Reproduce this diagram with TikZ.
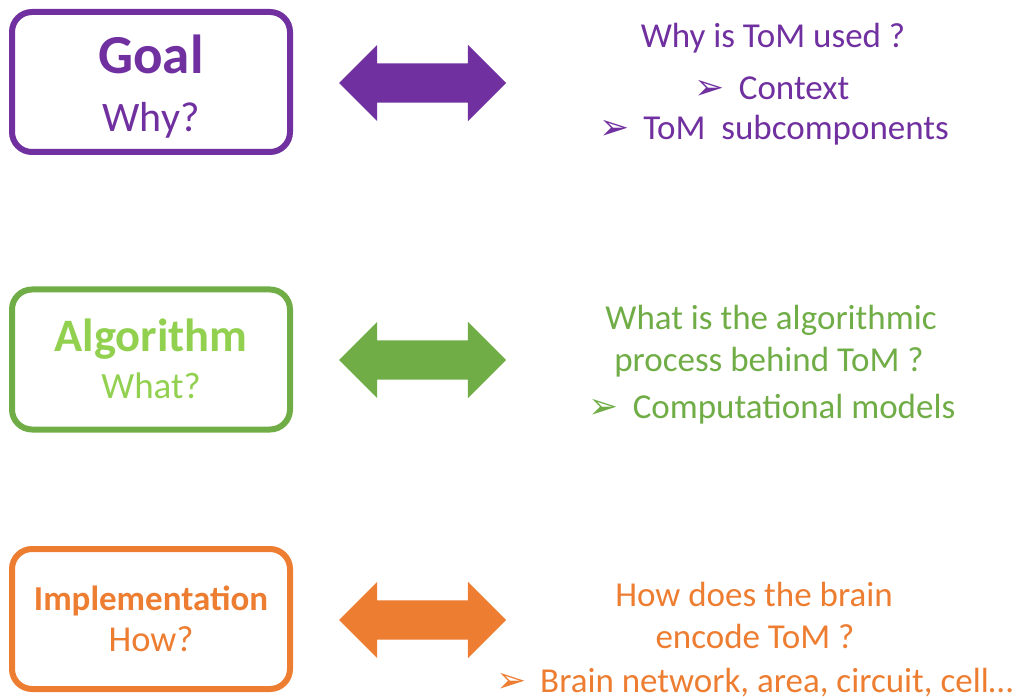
\documentclass[tikz,border=0pt]{standalone}
\usepackage{fontspec}
\setmainfont{Carlito}
\newfontfamily\dingfont{DejaVu Sans}
\usetikzlibrary{shapes.arrows}
\usepackage{xcolor}
\definecolor{goalpurple}{RGB}{112,48,160}
\definecolor{algogreen}{RGB}{112,173,71}
\definecolor{algolight}{RGB}{146,208,80}
\definecolor{implorange}{RGB}{237,125,49}

\newcommand{\tombullet}{{\dingfont\fontsize{36}{36}\selectfont ➢}\hspace{14pt}}

\begin{document}
\begin{tikzpicture}[x=1pt, y=-1pt,
    levelbox/.style={draw=#1, line width=6pt, rounded corners=20pt,
                     minimum width=278pt, minimum height=140pt, inner sep=0pt},
    linkarrow/.style={double arrow, fill=#1, draw=none, inner xsep=0pt, inner ysep=19.5pt,
                      minimum height=167pt, minimum width=76pt,
                      double arrow head extend=18.5pt, double arrow tip angle=90,
                      double arrow head indent=0pt},
    levelname/.style={font=\bfseries\fontsize{#1}{#1}\selectfont, anchor=base, inner sep=0pt},
    levelq/.style={font=\fontsize{#1}{#1}\selectfont, anchor=base, inner sep=0pt},
    rtext/.style={font=\fontsize{35}{35}\selectfont, anchor=base, inner sep=0pt}
]

\useasboundingbox (0,0) rectangle (1027,700);

\def\boxx{151}
\def\arrx{422.5}

% goal
\node[levelbox=goalpurple] (goal) at (\boxx, 82) {};
\node[levelname=55, text=goalpurple] (goalname) at (\boxx, 74) {Goal};
\node[levelq=42, text=goalpurple] (goalq) at (\boxx, 132) {Why?};
\node[linkarrow=goalpurple] (goalarrow) at (\arrx, 83) {};
\node[rtext, text=goalpurple] (goalline1) at (773, 48) {Why is ToM used ?};
\node[rtext, text=goalpurple] (goalline2) at (772, 100) {\tombullet Context};
\node[rtext, text=goalpurple] (goalline3) at (774, 140) {\tombullet ToM~ subcomponents};

% algorithm
\node[levelbox=algogreen] (algo) at (\boxx, 359.5) {};
\node[levelname=46.5, text=algolight] (algoname) at (\boxx, 351.5) {Algorithm};
\node[levelq=37, text=algolight] (algoq) at (\boxx, 398) {What?};
\node[linkarrow=algogreen] (algoarrow) at (\arrx, 360) {};
\node[rtext, text=algogreen] (algoline1) at (771, 330) {What is the algorithmic};
\node[rtext, text=algogreen] (algoline2) at (769, 371) {process behind ToM ?};
\node[rtext, text=algogreen] (algoline3) at (772, 418) {\tombullet Computational models};

% implementation
\node[levelbox=implorange] (impl) at (\boxx, 619) {};
\node[levelname=35, text=implorange] (implname) at (\boxx, 610) {Implementation};
\node[levelq=36.5, text=implorange] (implq) at (\boxx, 651.5) {How?};
\node[linkarrow=implorange] (implarrow) at (\arrx, 620) {};
\node[rtext, text=implorange] (implline1) at (754, 606.5) {How does the brain};
\node[rtext, text=implorange] (implline2) at (755, 648) {encode ToM ?};
\node[rtext, text=implorange] (implline3) at (754.5, 692) {\tombullet Brain network, area, circuit, cell…};

\end{tikzpicture}
\end{document}
